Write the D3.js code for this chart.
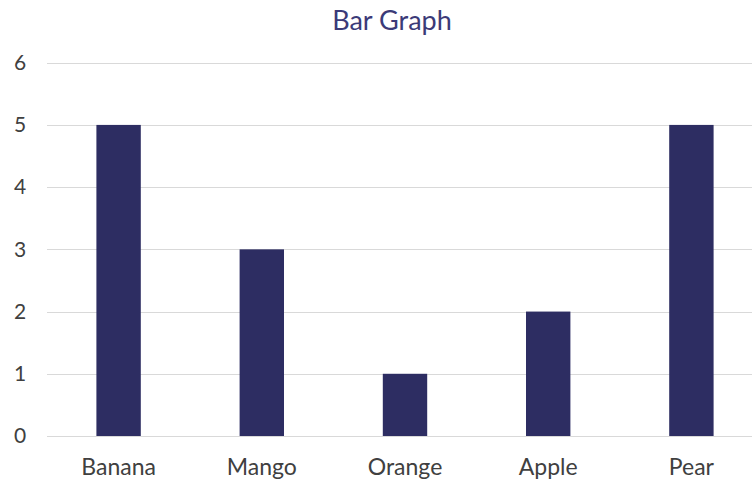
<!DOCTYPE html>
<html>
<head>
<meta charset="utf-8">
<script src="https://cdn.jsdelivr.net/npm/d3@7.9.0/dist/d3.min.js"></script>
<style>
  body { margin: 0; background: #fff; }
  svg { display: block; font-family: Lato, 'Open Sans', sans-serif; }
</style>
</head>
<body>
<svg id="chart" width="752" height="482"></svg>
<script>
const fruits = ['Banana', 'Mango', 'Orange', 'Apple', 'Pear'];
const counts = [5, 3, 1, 2, 5];
const yTicks = [0, 1, 2, 3, 4, 5, 6];

const svg = d3.select('#chart');

const x = d3.scaleBand()
  .domain(fruits)
  .range([47, 763])
  .paddingInner(0.69)
  .paddingOuter(0.345);

const y = d3.scaleLinear().domain([0, 6]).range([436, 62.7]);

// gridlines
svg.append('g')
  .selectAll('line')
  .data(yTicks)
  .join('line')
  .attr('x1', 47)
  .attr('x2', 752)
  .attr('y1', d => Math.round(y(d)) + 0.5)
  .attr('y2', d => Math.round(y(d)) + 0.5)
  .attr('stroke', '#d9d9d9')
  .attr('stroke-width', 1);

// y labels
svg.append('g')
  .selectAll('text')
  .data(yTicks)
  .join('text')
  .attr('x', 20)
  .attr('y', d => y(d))
  .attr('dy', '0.35em')
  .attr('text-anchor', 'middle')
  .attr('fill', '#404040')
  .attr('font-size', 21)
  .text(d => d);

// bars
svg.append('g')
  .selectAll('rect')
  .data(fruits)
  .join('rect')
  .attr('x', d => x(d))
  .attr('width', x.bandwidth())
  .attr('y', (d, i) => y(counts[i]))
  .attr('height', (d, i) => y(0) - y(counts[i]))
  .attr('fill', '#2d2d62');

// x labels
svg.append('g')
  .selectAll('text')
  .data(fruits)
  .join('text')
  .attr('x', d => x(d) + x.bandwidth() / 2)
  .attr('y', 475)
  .attr('text-anchor', 'middle')
  .attr('fill', '#404040')
  .attr('font-size', 23)
  .text(d => d);

// title
svg.append('text')
  .attr('x', 392)
  .attr('y', 30)
  .attr('text-anchor', 'middle')
  .attr('fill', '#3b3a78')
  .attr('font-size', 27)
  .text('Bar Graph');
</script>
</body>
</html>
